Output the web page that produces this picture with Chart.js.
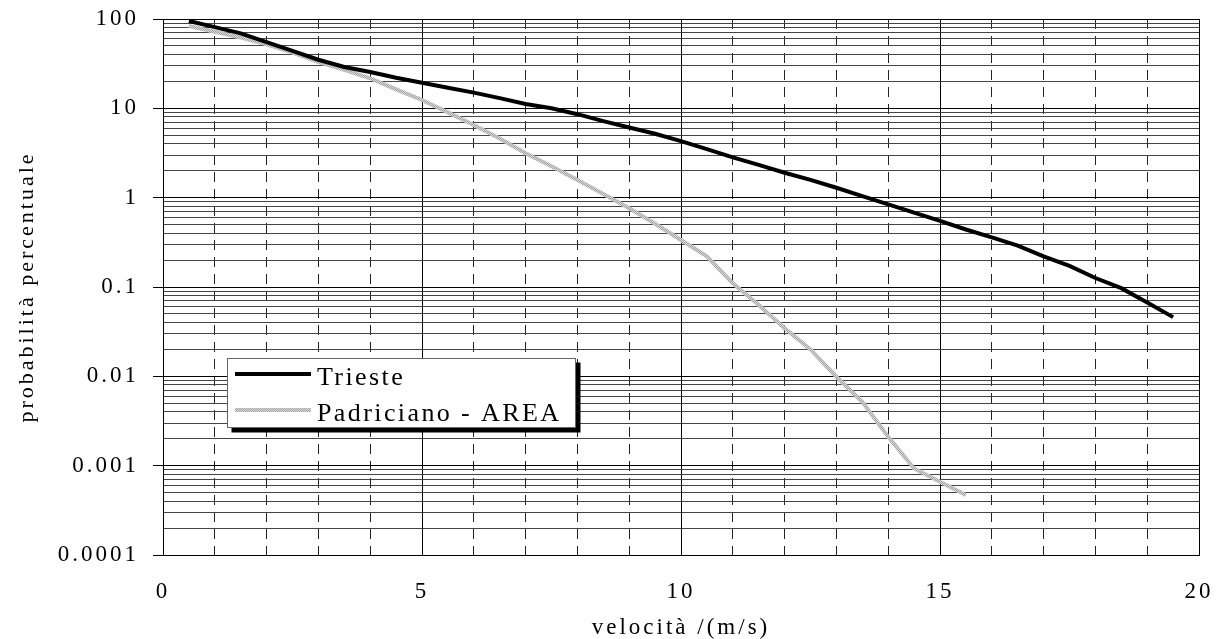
<!DOCTYPE html>
<html>
<head>
<meta charset="utf-8">
<script src="https://cdn.jsdelivr.net/npm/chart.js@4.4.1/dist/chart.umd.min.js"></script>
<style>
html,body{margin:0;padding:0;background:#fff;}
canvas{display:block;}
</style>
</head>
<body>
<canvas id="c" width="1226" height="639"></canvas>
<script>
// ---- data ----
const seriesNames = ['Trieste', 'Padriciano - AREA'];
const speedTrieste = [0.5,1,1.5,2,2.5,3,3.5,4,4.5,5,5.5,6,6.5,7,7.5,8,8.5,9,9.5,10,10.5,11,11.5,12,12.5,13,13.5,14,14.5,15,15.5,16,16.5,17,17.5,18,18.5,19,19.5];
const probTrieste = [95,81,69,55,44,35,29,25.5,22,19.3,17,15,13,11.2,10,8.6,7.2,6.1,5.2,4.3,3.5,2.83,2.33,1.9,1.58,1.29,1.04,0.84,0.68,0.55,0.44,0.36,0.29,0.22,0.172,0.126,0.097,0.067,0.046];
const speedPadriciano = [0.5,1,1.5,2,2.5,3,3.5,4,4.5,5,5.5,6,6.5,7,7.5,8,8.5,9,9.5,10,10.5,11,11.5,12,12.5,13,13.5,14,14.5,15,15.5];
const probPadriciano = [83.5,72,62,52,42,33,27,21.7,16.3,12.4,9,6.5,4.6,3.14,2.25,1.58,1.1,0.76,0.51,0.336,0.22,0.11,0.063,0.0345,0.02,0.0099,0.0052,0.0021,0.00093,0.00066,0.00047];

const xMajorTicks = [0, 5, 10, 15, 20];
const xTickLabels = ['0', '5', '10', '15', '20'];
const xMinorTicks = [1,2,3,4,6,7,8,9,11,12,13,14,16,17,18,19];
const yDecades = [0.0001, 0.001, 0.01, 0.1, 1, 10, 100];
const yTickLabels = ['0.0001', '0.001', '0.01', '0.1', '1', '10', '100'];
const yMinorFactors = [2, 3, 4, 5, 6, 7, 8, 9];
const xTitle = 'velocità /(m/s)';
const yTitle = 'probabilità percentuale';

// ---- helpers ----
const yTickValues = [];
yDecades.forEach((d, i) => {
  yTickValues.push(d);
  if (i < yDecades.length - 1) yMinorFactors.forEach(f => yTickValues.push(Number((d * f).toPrecision(6))));
});
function isDecade(v) {
  const l = Math.log10(v);
  return Math.abs(l - Math.round(l)) < 1e-6;
}
function decadeLabel(v) {
  const i = yDecades.findIndex(d => Math.abs(d - v) < d * 1e-6);
  return i >= 0 ? yTickLabels[i] : '';
}
function noPad(s) { s.paddingTop = 0; s.paddingBottom = 0; s.paddingLeft = 0; s.paddingRight = 0; }
const canvas = document.getElementById('c');
const mainCtx = canvas.getContext('2d');
function greyPattern() {
  const p = document.createElement('canvas');
  p.width = 2; p.height = 2;
  const g = p.getContext('2d');
  g.fillStyle = '#d6d6d6'; g.fillRect(0, 0, 2, 2);
  g.fillStyle = '#a6a6a6'; g.fillRect(0, 0, 1, 1); g.fillRect(1, 1, 1, 1);
  return mainCtx.createPattern(p, 'repeat');
}
const FONT = 'Liberation Serif';

const spacingPlugin = {
  id: 'spacing',
  beforeUpdate(chart) { chart.ctx.letterSpacing = '3px'; },
  beforeLayout(chart) { chart.ctx.letterSpacing = '3px'; },
  beforeDraw(chart) { chart.ctx.letterSpacing = '3px'; }
};

const boxLegend = {
  id: 'boxLegend',
  afterDraw(chart) {
    const { ctx, chartArea } = chart;
    const x = chartArea.left + 64, y = chartArea.top + 339, w = 349, h = 70;
    ctx.save();
    ctx.letterSpacing = '2.4px';
    ctx.fillStyle = '#000';
    ctx.fillRect(x + 4.5, y + 4.5, w, h);
    ctx.fillStyle = '#fff';
    ctx.fillRect(x, y, w, h);
    ctx.strokeStyle = '#666';
    ctx.lineWidth = 1;
    ctx.strokeRect(x + 0.5, y + 0.5, w - 1, h - 1);
    chart.data.datasets.forEach((ds, i) => {
      const cy = y + 16 + i * 36;
      ctx.strokeStyle = ds.borderColor;
      ctx.lineWidth = ds.borderWidth;
      ctx.beginPath();
      ctx.moveTo(x + 8, cy);
      ctx.lineTo(x + 84, cy);
      ctx.stroke();
      ctx.fillStyle = '#000';
      ctx.font = '26px "' + FONT + '"';
      ctx.textBaseline = 'alphabetic';
      ctx.textAlign = 'left';
      ctx.fillText(ds.label, x + 90, cy + 11);
    });
    ctx.restore();
  }
};

new Chart(mainCtx, {
  type: 'line',
  data: {
    datasets: [
      {
        label: seriesNames[0],
        data: speedTrieste.map((s, i) => ({ x: s, y: probTrieste[i] })),
        borderColor: '#000',
        borderWidth: 4,
        pointRadius: 0,
        tension: 0,
        fill: false
      },
      {
        label: seriesNames[1],
        data: speedPadriciano.map((s, i) => ({ x: s, y: probPadriciano[i] })),
        borderColor: greyPattern(),
        borderWidth: 4,
        pointRadius: 0,
        tension: 0,
        fill: false
      }
    ]
  },
  options: {
    responsive: false,
    animation: false,
    devicePixelRatio: 1,
    layout: { autoPadding: false, padding: { top: 19, right: 27, left: 0, bottom: 0 } },
    plugins: { legend: { display: false }, tooltip: { enabled: false } },
    scales: {
      x: {
        type: 'linear', position: 'bottom', min: 0, max: 20,
        afterBuildTicks: s => { s.ticks = xMajorTicks.map(v => ({ value: v })); },
        afterFit: s => { s.height = 84; noPad(s); },
        ticks: {
          autoSkip: false, maxRotation: 0, padding: 23, color: '#000',
          font: { family: FONT, size: 23 },
          callback: v => xTickLabels[xMajorTicks.indexOf(v)]
        },
        grid: { color: '#000', lineWidth: 1, drawTicks: false },
        border: { display: true, color: '#000', width: 1 },
        title: {
          display: true, text: xTitle, color: '#000',
          font: { family: FONT, size: 23, lineHeight: 1 },
          padding: { top: 0, bottom: 0 }
        }
      },
      x2: {
        type: 'linear', position: 'top', min: 0, max: 20,
        afterBuildTicks: s => { s.ticks = xMinorTicks.map(v => ({ value: v })); },
        afterFit: s => { s.height = 0; noPad(s); },
        ticks: { display: false },
        grid: { color: '#222', lineWidth: 1, drawTicks: false, borderDash: [10, 7] },
        border: { display: false, dash: [10, 7] }
      },
      y: {
        type: 'logarithmic', position: 'left', min: 0.0001, max: 100,
        afterBuildTicks: s => { s.ticks = yTickValues.map(v => ({ value: v, major: isDecade(v) })); },
        afterFit: s => { s.width = 163; noPad(s); },
        ticks: {
          autoSkip: false, padding: 14, color: '#000',
          font: { family: FONT, size: 23 },
          callback: v => decadeLabel(v)
        },
        grid: {
          color: c => (c.tick && isDecade(c.tick.value)) ? '#000' : '#444',
          lineWidth: 1,
          drawTicks: true,
          tickLength: 10,
          tickColor: c => (c.tick && isDecade(c.tick.value)) ? '#000' : 'rgba(0,0,0,0)'
        },
        border: { display: true, color: '#000', width: 1 },
        title: {
          display: true, text: yTitle, color: '#000',
          font: { family: FONT, size: 22, lineHeight: 1 },
          padding: { top: 16, bottom: 0 }
        }
      }
    }
  },
  plugins: [spacingPlugin, boxLegend]
});
</script>
</body>
</html>
